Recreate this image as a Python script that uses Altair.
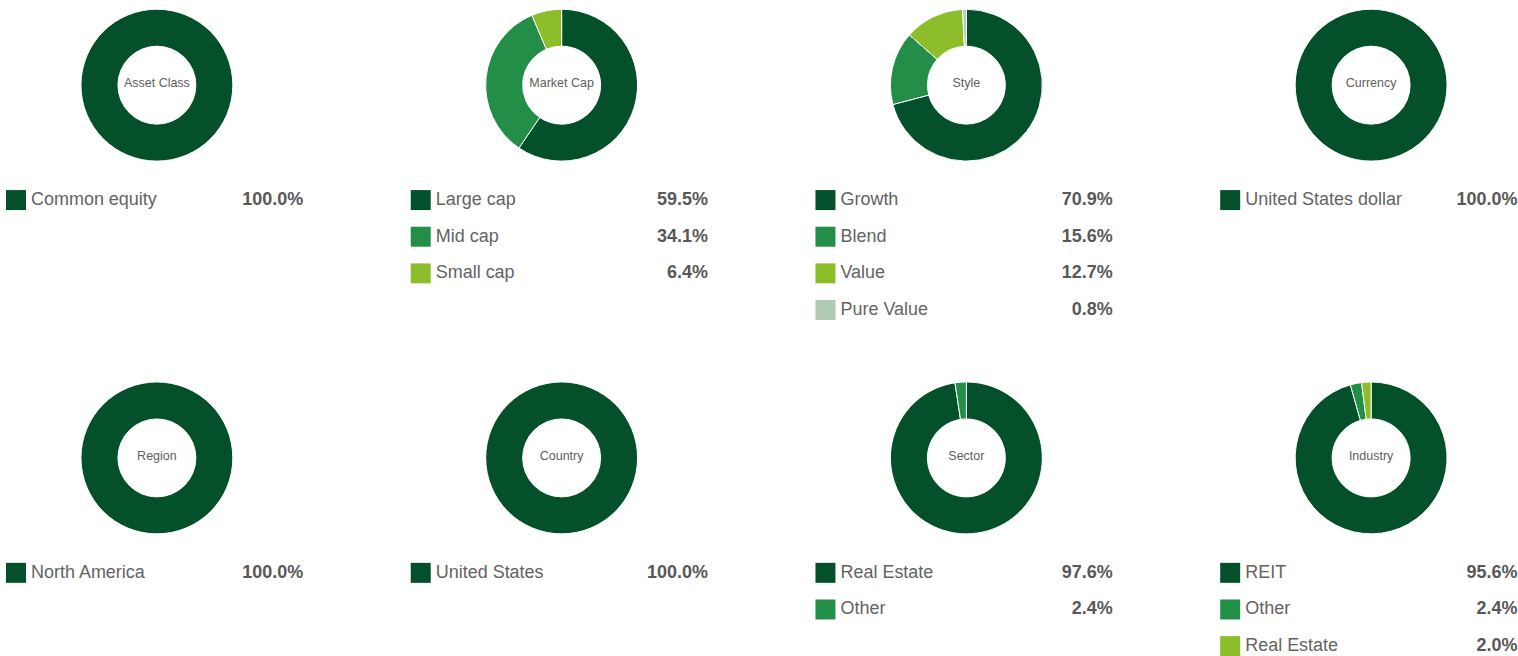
import altair as alt
import pandas as pd

panels = ["Asset Class", "Market Cap", "Style", "Currency",
          "Region", "Country", "Sector", "Industry"]

asset_labels = ["Common equity"]
asset_values = [100.0]
mcap_labels = ["Large cap", "Mid cap", "Small cap"]
mcap_values = [59.5, 34.1, 6.4]
style_labels = ["Growth", "Blend", "Value", "Pure Value"]
style_values = [70.9, 15.6, 12.7, 0.8]
currency_labels = ["United States dollar"]
currency_values = [100.0]
region_labels = ["North America"]
region_values = [100.0]
country_labels = ["United States"]
country_values = [100.0]
sector_labels = ["Real Estate", "Other"]
sector_values = [97.6, 2.4]
industry_labels = ["REIT", "Other", "Real Estate"]
industry_values = [95.6, 2.4, 2.0]

colors = ["#03502A", "#238E48", "#8CBD2B", "#B0CAB4"]

groups = [
    (asset_labels, asset_values), (mcap_labels, mcap_values),
    (style_labels, style_values), (currency_labels, currency_values),
    (region_labels, region_values), (country_labels, country_values),
    (sector_labels, sector_values), (industry_labels, industry_values),
]

rows = []
for p, (labs, vals) in zip(panels, groups):
    for i, (l, v) in enumerate(zip(labs, vals)):
        rows.append({"panel": p, "label": l, "value": v, "rank": i + 1,
                     "pct": f"{v:.1f}%"})
df = pd.DataFrame(rows)

color = alt.Color("rank:O", scale=alt.Scale(domain=[1, 2, 3, 4], range=colors), legend=None)
yrow = alt.Y("rank:Q", scale=alt.Scale(domain=[1, 4], range=[200, 310], zero=False, nice=False), axis=None)


def panel(name):
    base = alt.Chart(df).transform_filter(alt.datum.panel == name)
    arc = base.mark_arc(outerRadius=76, innerRadius=39, stroke="white", strokeWidth=1).encode(
        theta=alt.Theta("value:Q", stack=True),
        color=color,
        order=alt.Order("rank:Q", sort="ascending"),
        x=alt.value(157),
        y=alt.value(85),
    )
    center = base.mark_text(font="Liberation Sans", fontSize=12.5, color="#606060",
                            align="center", baseline="middle").encode(
        text="panel:N",
        x=alt.value(157),
        y=alt.value(83),
    ).transform_filter(alt.datum.rank == 1)
    swatch = base.mark_square(size=400, opacity=1, filled=True).encode(
        x=alt.value(16),
        y=yrow,
        color=color,
    )
    label = base.mark_text(font="Liberation Sans", fontSize=18, color="#636363",
                           align="left", baseline="middle").encode(
        x=alt.value(31),
        y=yrow,
        text="label:N",
    )
    pct = base.mark_text(font="Liberation Sans", fontSize=18, fontWeight="bold",
                         color="#585858", align="right", baseline="middle").encode(
        x=alt.value(303.5),
        y=yrow,
        text="pct:N",
    )
    return alt.layer(arc, center, swatch, label, pct).properties(width=303, height=283)


chart = alt.concat(
    *[panel(p) for p in panels],
    columns=4,
    spacing={"row": 90, "column": 102},
    bounds="flush",
).properties(padding=0).configure_view(strokeWidth=0)

chart.save("out.html", embed_options={"renderer": "svg", "actions": False})
